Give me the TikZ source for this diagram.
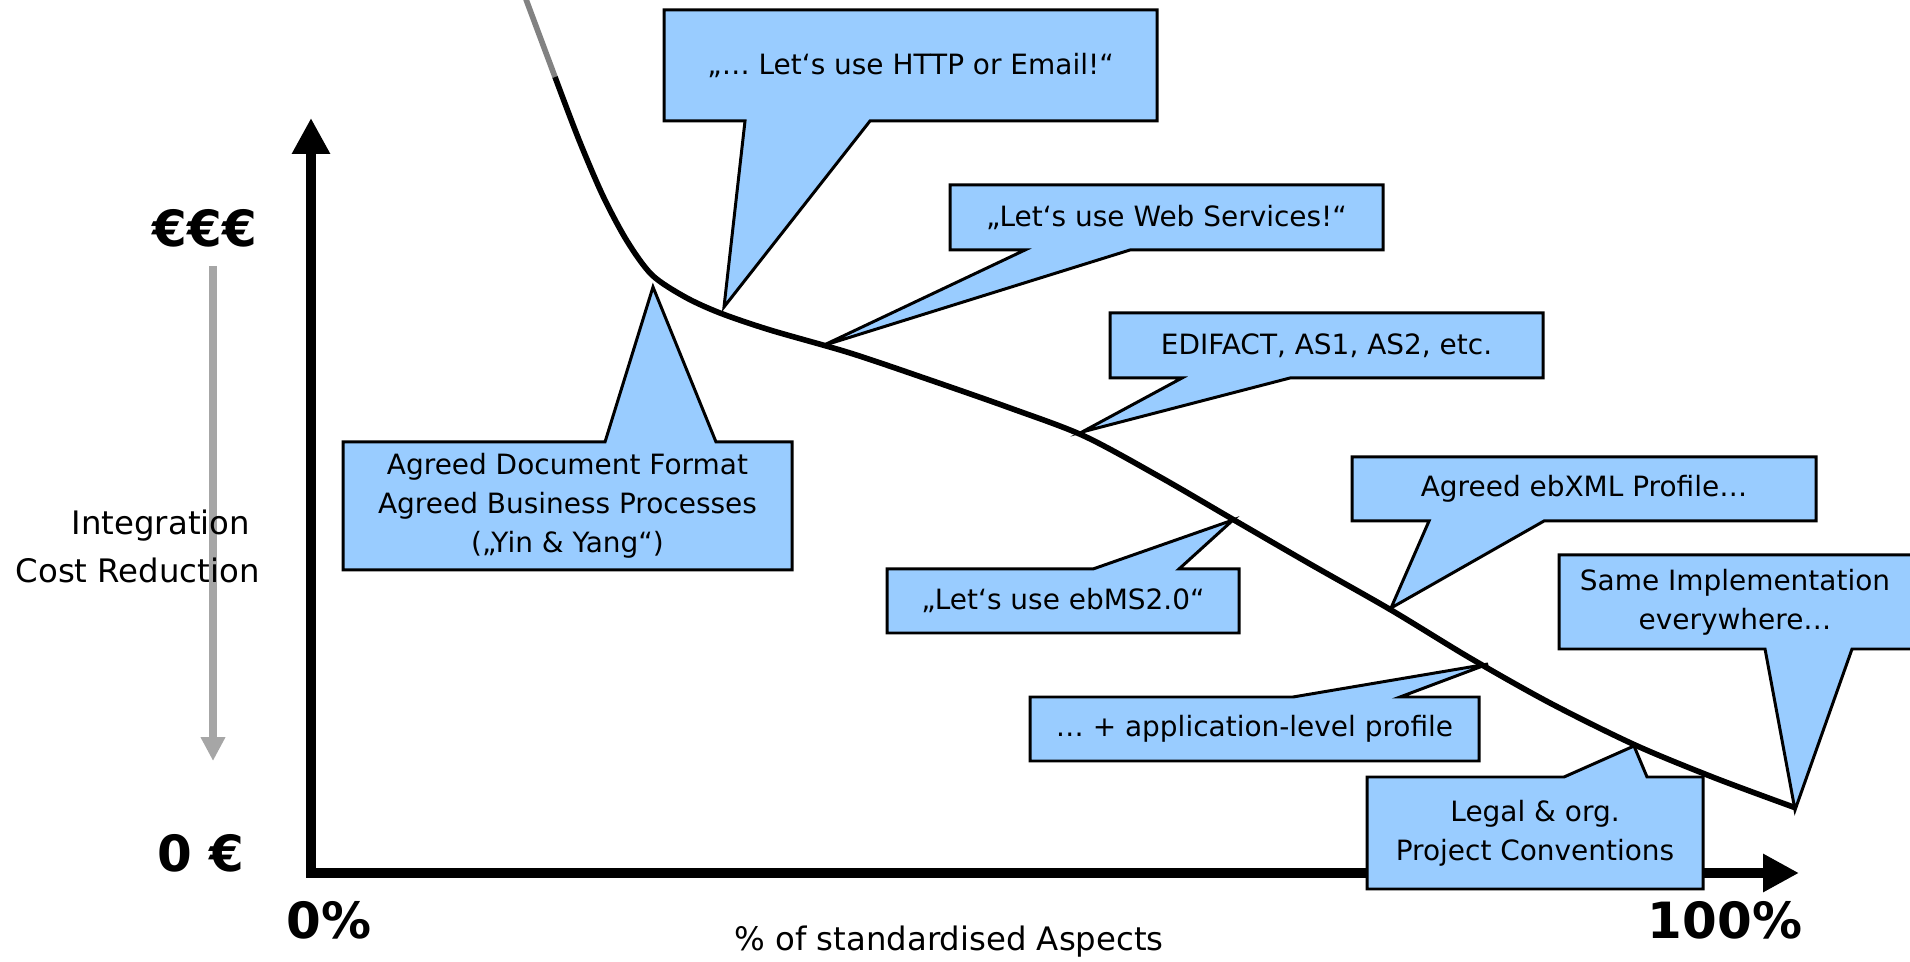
\documentclass[tikz,border=0pt]{standalone}
\usepackage{fontspec}
\setmainfont{DejaVu Sans}
\usetikzlibrary{arrows.meta}
\definecolor{calloutblue}{RGB}{153,204,255}
\definecolor{arrowgrey}{RGB}{166,166,166}
\definecolor{fadegrey}{RGB}{130,130,130}

\begin{document}
\begin{tikzpicture}[x=0.01cm,y=-0.01cm,
  callout/.style={draw=black, line width=0.85pt, fill=calloutblue, line join=miter},
  calltext/.style={inner sep=0pt, align=center, font=\fontsize{7.95pt}{11.1pt}\selectfont},
  axislabel/.style={inner sep=0pt, font=\fontsize{9.2pt}{12.5pt}\selectfont},
  ticklabel/.style={inner sep=0pt, font=\fontsize{14.2pt}{17pt}\selectfont\bfseries},
  axisline/.style={line width=3.1pt, line join=miter,
    {Triangle[length=10.2pt,width=10.2pt]}-{Triangle[length=10.2pt,width=10.2pt]}},
  costcurve/.style={line width=1.6pt, line join=round},
  reduction/.style={draw=arrowgrey, line width=2.3pt, -{Triangle[length=6.8pt,width=6.6pt]}},
]
\useasboundingbox (0,0) rectangle (1910,962);

% axes
\coordinate (O) at (311,873);
\coordinate (ytip) at (311,118);
\coordinate (xtip) at (1799,873);
\draw[axisline] (ytip) -- (O) -- (xtip);

% cost reduction hint on the left
\coordinate (gtop) at (213,266);
\coordinate (gtip) at (213,761);
\draw[reduction] (gtop) -- (gtip);

\node[ticklabel] (eee) at (205,228) {€€€};
\node[ticklabel] (zeroeur) at (201,853) {0 €};
\node[ticklabel] (zeropct) at (329,920) {0\%};
\node[ticklabel] (fullpct) at (1725,920) {100\%};
\node[axislabel, anchor=west] (integ) at (71,526) {Integration};
\node[axislabel, anchor=west] (costred) at (15,570) {Cost Reduction};
\node[axislabel] (xlabel) at (949,942) {\% of standardised Aspects};

% callouts
\draw[callout] (664,10) -- (1157,10) -- (1157,121) -- (870,121) -- (724,307) -- (745,121) -- (664,121) -- cycle;
\node[calltext] (http) at (910.5,65.5) {„… Let‘s use HTTP or Email!“};

\draw[callout] (950,185) -- (1383,185) -- (1383,250) -- (1130,250) -- (822,346) -- (1025,250) -- (950,250) -- cycle;
\node[calltext] (websvc) at (1166.5,217.5) {„Let‘s use Web Services!“};

\draw[callout] (1110,313) -- (1543,313) -- (1543,378) -- (1290,378) -- (1082,432) -- (1182,378) -- (1110,378) -- cycle;
\node[calltext] (edifact) at (1326.5,345.5) {EDIFACT, AS1, AS2, etc.};

\draw[callout] (887,569) -- (1093,569) -- (1233,520) -- (1179,569) -- (1239,569) -- (1239,633) -- (887,633) -- cycle;
\node[calltext] (ebms) at (1063,601) {„Let‘s use ebMS2.0“};

\draw[callout] (1352,457) -- (1816,457) -- (1816,521) -- (1544,521) -- (1391,608) -- (1429,521) -- (1352,521) -- cycle;
\node[calltext] (ebxml) at (1584,489) {Agreed ebXML Profile…};

\draw[callout] (1030,697) -- (1293,697) -- (1488,664) -- (1400,697) -- (1479,697) -- (1479,761) -- (1030,761) -- cycle;
\node[calltext] (applevel) at (1254.5,729) {… + application-level profile};

\draw[callout] (1367,777) -- (1564,777) -- (1634,746) -- (1647,777) -- (1703,777) -- (1703,889) -- (1367,889) -- cycle;
\node[calltext] (legal) at (1535,833) {Legal \& org.\\Project Conventions};

\draw[callout] (1559,555) -- (1912,555) -- (1912,649) -- (1852,649) -- (1795,810) -- (1765,649) -- (1559,649) -- cycle;
\node[calltext] (sameimpl) at (1735,602) {Same Implementation\\everywhere…};

\draw[callout] (343,442) -- (605,442) -- (653,287) -- (716,442) -- (792,442) -- (792,570) -- (343,570) -- cycle;
\node[calltext] (yinyang) at (567.5,506) {Agreed Document Format\\Agreed Business Processes\\(„Yin \& Yang“)};

% integration cost curve
\draw[costcurve, draw=fadegrey] (524,-6) -- (555,77);
\draw[costcurve] plot[smooth, tension=0.5] coordinates {(555,77) (579,140) (603,196) (627,241) (652,275) (685,297) (720,313) (770,330) (850,353) (930,380) (1010,408) (1084,436) (1160,477) (1234,520) (1310,564) (1391,610) (1470,658) (1550,703) (1635,745) (1715,778) (1796,808)};
\end{tikzpicture}
\end{document}
